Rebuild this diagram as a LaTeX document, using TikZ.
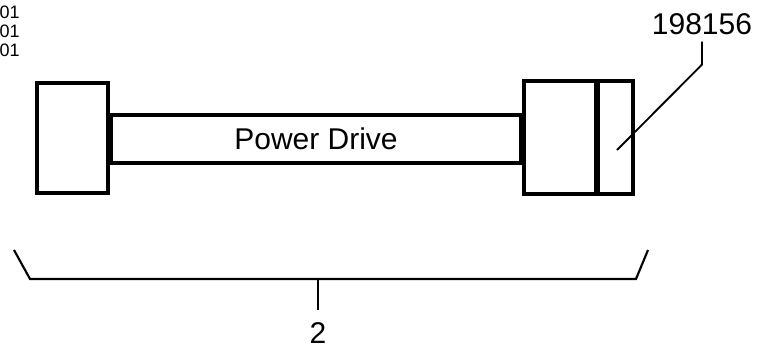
\documentclass[tikz,border=0pt]{standalone}
\usepackage{fontspec}
\setmainfont{Liberation Sans}
\usetikzlibrary{positioning}

\begin{document}
\begin{tikzpicture}[
  x=0.75pt, y=-0.75pt,
  part/.style={draw=black, line width=2.5pt, fill=white},
  thickbar/.style={line width=4.5pt, black},
  leader/.style={draw=black, line width=1.4pt},
  bracket/.style={draw=black, line width=1.6pt},
  lbl/.style={font=\fontsize{22.5}{26}\selectfont, inner sep=0pt},
  note/.style={font=\fontsize{13.5}{16}\selectfont, inner sep=0pt, anchor=east},
]
\useasboundingbox (0,0) rectangle (758,354);

% ---- Reste de texte en haut a gauche
\node[note] (n1) at (20,12) {01};
\node[note] (n2) at (20,31) {01};
\node[note] (n3) at (20,50) {01};

% ---- Arbre de transmission
\draw[part] (37,83) rectangle (108,193);
\draw[part] (108,115) rectangle (524,163);
\draw[thickbar] (110,115) -- (110,163);
\draw[thickbar] (522,115) -- (522,163);
\node[lbl] (drive) at (316,139) {Power Drive};
\draw[part] (524,81) rectangle (633,194);
\draw[thickbar] (597,81) -- (597,194);

% ---- Repere 198156
\node[lbl] (ref) at (702,24) {198156};
\coordinate (tip) at (617,150);
\draw[leader] ([yshift=-5pt]ref.south) -- ++(0,23) -- (tip);

% ---- Accolade et repere 2
\node[lbl] (num) at (318,333) {2};
\draw[bracket] (14,250) -- (30,279) -- (636,279) -- (648,250);
\draw[bracket] (318,279) -- ([yshift=9pt]num.north);
\end{tikzpicture}
\end{document}
